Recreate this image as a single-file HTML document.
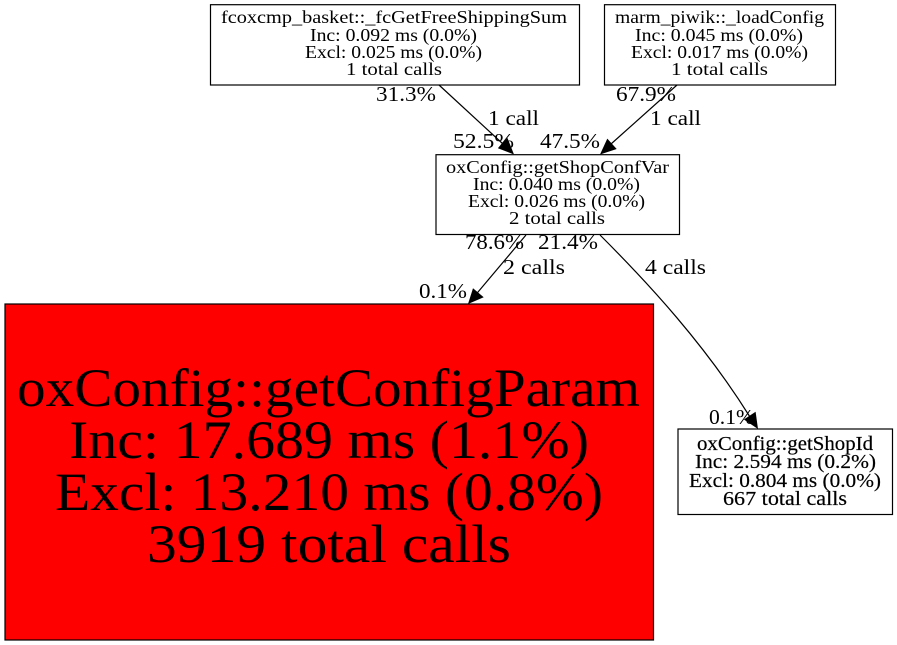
<!DOCTYPE html>
<html><head><meta charset="utf-8"><style>
html,body{margin:0;padding:0;background:#fff}
svg{display:block}
text{font-family:"Liberation Serif",serif;fill:#000;text-anchor:start}
.s{font-size:18px}.e{font-size:21px}.m{font-size:20px;stroke:#000;stroke-width:.2}.b{font-size:54px}
rect{stroke:#000;stroke-width:1.2}
path.l{fill:none;stroke:#000;stroke-width:1.2}
</style></head><body>
<svg width="897" height="645" viewBox="0 0 897 645" xmlns="http://www.w3.org/2000/svg">
<rect width="897" height="645" fill="#fff" style="stroke:none"/>
<rect x="210.5" y="4.7" width="369" height="80.3" fill="#fff"/>
<rect x="604.5" y="4.7" width="231" height="80.3" fill="#fff"/>
<rect x="436" y="154.7" width="243.5" height="79.8" fill="#fff"/>
<rect x="5" y="304" width="648.5" height="336" fill="#f00"/>
<rect x="678" y="429" width="214.5" height="85.5" fill="#fff"/>

<path class="l" d="M439,85 L503,144"/><polygon points="514,154.5 507.4,137.9 497.9,148.2"/>
<path class="l" d="M677,85 L611,144"/><polygon points="600,154.5 616.7,149 607.3,138.6"/>
<path class="l" d="M526,235 L477.6,292.5"/><polygon points="468,304 483.7,297.2 473,288.2"/>
<path class="l" d="M600,235 C650,285 705,345 749.7,416.5"/><polygon points="758,429 755.6,411.8 743.9,419.5"/>

<text class="s" x="221" y="23" textLength="346" lengthAdjust="spacingAndGlyphs">fcoxcmp_basket::_fcGetFreeShippingSum</text>
<text class="s" x="310" y="41" textLength="167" lengthAdjust="spacingAndGlyphs">Inc: 0.092 ms (0.0%)</text>
<text class="s" x="305" y="58" textLength="177" lengthAdjust="spacingAndGlyphs">Excl: 0.025 ms (0.0%)</text>
<text class="s" x="346" y="75" textLength="96" lengthAdjust="spacingAndGlyphs">1 total calls</text>

<text class="s" x="615" y="23" textLength="209" lengthAdjust="spacingAndGlyphs">marm_piwik::_loadConfig</text>
<text class="s" x="635" y="41" textLength="168" lengthAdjust="spacingAndGlyphs">Inc: 0.045 ms (0.0%)</text>
<text class="s" x="631" y="58" textLength="177" lengthAdjust="spacingAndGlyphs">Excl: 0.017 ms (0.0%)</text>
<text class="s" x="671" y="75" textLength="97" lengthAdjust="spacingAndGlyphs">1 total calls</text>

<text class="s" x="446" y="173" textLength="223" lengthAdjust="spacingAndGlyphs">oxConfig::getShopConfVar</text>
<text class="s" x="473" y="190" textLength="167" lengthAdjust="spacingAndGlyphs">Inc: 0.040 ms (0.0%)</text>
<text class="s" x="468" y="207" textLength="177" lengthAdjust="spacingAndGlyphs">Excl: 0.026 ms (0.0%)</text>
<text class="s" x="509" y="224" textLength="96" lengthAdjust="spacingAndGlyphs">2 total calls</text>

<text class="b" x="17" y="406" textLength="623" lengthAdjust="spacingAndGlyphs">oxConfig::getConfigParam</text>
<text class="b" x="69" y="458" textLength="520" lengthAdjust="spacingAndGlyphs">Inc: 17.689 ms (1.1%)</text>
<text class="b" x="55" y="510" textLength="548" lengthAdjust="spacingAndGlyphs">Excl: 13.210 ms (0.8%)</text>
<text class="b" x="147" y="562" textLength="364" lengthAdjust="spacingAndGlyphs">3919 total calls</text>

<text class="m" x="697" y="450" textLength="176" lengthAdjust="spacingAndGlyphs">oxConfig::getShopId</text>
<text class="m" x="695" y="468" textLength="181" lengthAdjust="spacingAndGlyphs">Inc: 2.594 ms (0.2%)</text>
<text class="m" x="689" y="487" textLength="192" lengthAdjust="spacingAndGlyphs">Excl: 0.804 ms (0.0%)</text>
<text class="m" x="723" y="505" textLength="124" lengthAdjust="spacingAndGlyphs">667 total calls</text>

<text class="e" x="376" y="101" textLength="60" lengthAdjust="spacingAndGlyphs">31.3%</text>
<text class="e" x="488" y="125" textLength="51" lengthAdjust="spacingAndGlyphs">1 call</text>
<text class="e" x="453" y="148" textLength="61" lengthAdjust="spacingAndGlyphs">52.5%</text>
<text class="e" x="540" y="148" textLength="60" lengthAdjust="spacingAndGlyphs">47.5%</text>
<text class="e" x="616" y="101" textLength="60" lengthAdjust="spacingAndGlyphs">67.9%</text>
<text class="e" x="650" y="125" textLength="51" lengthAdjust="spacingAndGlyphs">1 call</text>
<text class="e" x="465" y="249" textLength="59" lengthAdjust="spacingAndGlyphs">78.6%</text>
<text class="e" x="538" y="249" textLength="60" lengthAdjust="spacingAndGlyphs">21.4%</text>
<text class="e" x="503" y="274" textLength="62" lengthAdjust="spacingAndGlyphs">2 calls</text>
<text class="e" x="645" y="274" textLength="61" lengthAdjust="spacingAndGlyphs">4 calls</text>
<text class="e" x="419" y="298" textLength="48" lengthAdjust="spacingAndGlyphs">0.1%</text>
<text class="e" x="709" y="424" textLength="45" lengthAdjust="spacingAndGlyphs">0.1%</text>
</svg>
</body></html>
